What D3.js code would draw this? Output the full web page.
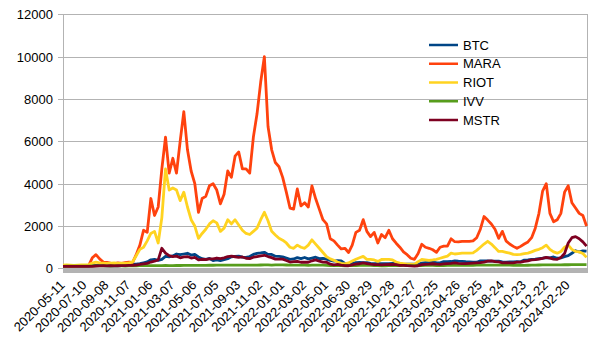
<!DOCTYPE html>
<html>
<head>
<meta charset="utf-8">
<script src="https://cdn.jsdelivr.net/npm/d3@7"></script>
<style>
  body { margin: 0; background: #fff; }
  svg { display: block; }
  text { font-family: "Liberation Sans", Arial, sans-serif; font-size: 13px; fill: #000; }
</style>
</head>
<body>
<svg id="chart" width="606" height="341"></svg>
<script>
// Sampling of the series: one value every 10 days from the first date.
const startDate = "2020-05-11";
const endDate = "2024-04-14";
const stepDays = 10;

const tickLabels = [
  "2020-05-11", "2020-07-10", "2020-09-08", "2020-11-07", "2021-01-06", "2021-03-07",
  "2021-05-06", "2021-07-05", "2021-09-03", "2021-11-02", "2022-01-01", "2022-03-02",
  "2022-05-01", "2022-06-30", "2022-08-29", "2022-10-28", "2022-12-27", "2023-02-25",
  "2023-04-26", "2023-06-25", "2023-08-24", "2023-10-23", "2023-12-22", "2024-02-20"
];
const yTicks = [0, 2000, 4000, 6000, 8000, 10000, 12000];

const seriesNames = ["BTC", "MARA", "RIOT", "IVV", "MSTR"];
const seriesColors = ["#004586", "#ff420e", "#ffd320", "#579d1c", "#7e0021"];

// Indexed performance (start = 100)
const btc = [
  100, 107, 110, 113, 108, 106, 107, 108, 130, 137, 137, 133,
  119, 127, 125, 125, 133, 155, 174, 196, 198, 222, 265, 306,
  405, 426, 375, 430, 570, 545, 590, 680, 645, 680, 715, 630,
  660, 540, 460, 430, 470, 370, 400, 370, 410, 460, 550, 570,
  580, 535, 520, 560, 660, 710, 730, 760, 660, 660, 575, 565,
  545, 490, 425, 445, 510, 460, 515, 450, 490, 530, 460, 475,
  440, 375, 340, 370, 350, 240, 230, 240, 275, 280, 270, 270,
  235, 225, 225, 225, 225, 225, 240, 240, 195, 190, 200, 195,
  195, 195, 245, 270, 270, 285, 270, 260, 320, 320, 325, 350,
  340, 335, 315, 310, 300, 290, 355, 355, 350, 340, 340, 340,
  305, 300, 305, 310, 320, 310, 395, 405, 430, 435, 465, 480,
  510, 500, 540, 480, 500, 555, 600, 715, 835, 780, 830, 815
];
const mara = [
  100, 95, 90, 100, 110, 105, 110, 130, 500, 650, 450, 300,
  280, 250, 230, 260, 240, 270, 300, 280, 650, 1100, 1800, 1700,
  3300, 2500, 2900, 4700, 6200, 4500, 5200, 4500, 6000, 7400, 5600, 4600,
  4000, 2650, 3300, 3400, 3900, 4000, 3700, 3050, 3500, 4600, 4300, 5300,
  5500, 4700, 4700, 4500, 6200, 7300, 8800, 10000, 6700, 5600, 5000, 4800,
  4300, 3600, 2850, 2800, 3750, 2950, 3100, 2900, 3900, 3300, 2800, 2300,
  2100, 1400, 1300, 1100, 920, 950, 750, 1100, 1700, 1800, 2300, 1750,
  1500, 1700, 1200, 1600, 1450, 1800, 1400, 1190, 1000, 780, 650, 480,
  430, 700, 1140, 1000, 950, 880, 760, 1000, 1050, 1050, 1400, 1260,
  1250, 1280, 1280, 1280, 1300, 1450, 1850, 2450, 2280, 2100, 1850, 1420,
  1750, 1300, 1150, 1040, 950, 1040, 1150, 1250, 1450, 1900, 2600, 3650,
  4000, 2600, 2200, 2300, 2600, 3600, 3900, 3100, 2850, 2600, 2500, 2000
];
const riot = [
  150, 160, 150, 140, 150, 160, 160, 180, 250, 300, 260, 250,
  240, 250, 260, 240, 250, 240, 260, 300, 600, 900, 1000, 1300,
  1650, 1750, 1200, 2400, 4700, 3700, 3800, 3700, 3200, 3600, 2900, 2300,
  2000, 1420, 1650, 1850, 2100, 2250, 2150, 1750, 1900, 2300, 2100, 2300,
  2050, 1800, 1650, 1600, 1750, 1900, 2300, 2650, 2250, 1750, 1580, 1420,
  1330, 1200, 1000, 950, 1100, 1000, 950, 1100, 1350, 1150, 950, 750,
  550, 450, 380, 300, 240, 210, 260, 350, 430, 500, 570, 430,
  430, 400, 330, 420, 430, 430, 400, 300, 250, 230, 200, 200,
  190, 320, 420, 400, 380, 400, 430, 480, 530, 580, 720, 680,
  700, 720, 720, 720, 730, 850, 1000, 1150, 1280, 1150, 980, 800,
  800, 760, 720, 660, 650, 660, 700, 720, 780, 850, 900, 980,
  1100, 900, 780, 720, 800, 1000, 1100, 900, 800, 780, 700, 520
];
const ivv = [
  100, 103, 105, 111, 106, 107, 110, 112, 114, 117, 118, 121,
  115, 114, 115, 119, 120, 113, 123, 124, 126, 127, 128, 129,
  131, 132, 131, 134, 137, 133, 135, 137, 137, 141, 144, 145,
  145, 143, 145, 146, 148, 148, 151, 150, 152, 152, 155, 155,
  156, 154, 153, 151, 152, 158, 161, 162, 162, 158, 162, 162,
  165, 161, 152, 156, 155, 150, 151, 147, 156, 157, 152, 151,
  144, 138, 134, 141, 135, 126, 131, 134, 137, 142, 146, 148,
  139, 138, 134, 126, 125, 128, 133, 132, 138, 139, 137, 133,
  132, 135, 137, 140, 143, 142, 137, 138, 137, 139, 142, 143,
  141, 143, 143, 144, 148, 152, 151, 153, 157, 158, 155, 152,
  153, 156, 155, 149, 148, 150, 145, 148, 153, 157, 160, 163,
  165, 165, 165, 168, 169, 172, 173, 177, 178, 180, 181, 178
];
const mstr = [
  100, 100, 100, 100, 98, 95, 98, 98, 100, 113, 120, 125,
  118, 125, 118, 125, 130, 135, 140, 145, 160, 185, 215, 240,
  300, 340, 400, 950, 720, 600, 560, 580, 500, 540, 560, 490,
  520, 400, 430, 420, 450, 450, 490, 460, 500, 560, 580, 550,
  520, 540, 480, 460, 530, 560, 590, 620, 560, 510, 440, 440,
  440, 370, 300, 320, 330, 290, 300, 290, 360, 400, 340, 300,
  290, 200, 170, 190, 150, 130, 125, 170, 200, 220, 260, 230,
  200, 180, 180, 170, 180, 185, 190, 175, 140, 145, 130, 120,
  110, 125, 175, 190, 200, 220, 200, 190, 210, 230, 240, 260,
  240, 230, 230, 240, 250, 260, 270, 300, 340, 360, 320, 310,
  265, 270, 265, 265, 300, 300, 330, 360, 400, 410, 440, 470,
  520, 480, 440, 430, 520, 700, 1200, 1450, 1500, 1400, 1250, 1050
];
const seriesValues = [btc, mara, riot, ivv, mstr];

const parse = d3.utcParse("%Y-%m-%d");
const fmt = d3.utcFormat("%Y-%m-%d");
const t0 = parse(startDate);
const dates = btc.map((_, i) => d3.utcDay.offset(t0, i * stepDays));

const plotLeft = 63, plotRight = 588, plotTop = 14, plotBottom = 268;

const svg = d3.select("#chart");

const x = d3.scaleUtc().domain([t0, parse(endDate)]).range([plotLeft, plotRight]);
const y = d3.scaleLinear().domain([0, 12000]).range([268.4, 14.3]);
const yGrid = y.copy().interpolate(d3.interpolateRound);

// Horizontal grid
svg.append("g")
  .selectAll("line")
  .data(yTicks)
  .join("line")
  .attr("x1", plotLeft).attr("x2", plotRight)
  .attr("y1", d => yGrid(d) + 0.5).attr("y2", d => yGrid(d) + 0.5)
  .attr("stroke", "#b3b3b3").attr("stroke-width", 1);

// Plot frame: left axis line and right edge
svg.append("line").attr("x1", plotLeft + 0.5).attr("x2", plotLeft + 0.5)
  .attr("y1", plotTop).attr("y2", plotBottom + 5).attr("stroke", "#b3b3b3");
svg.append("line").attr("x1", plotRight - 0.5).attr("x2", plotRight - 0.5)
  .attr("y1", plotTop).attr("y2", plotBottom).attr("stroke", "#b3b3b3");

// Daily tick marks along the date axis merge into a solid strip
svg.append("rect")
  .attr("x", plotLeft).attr("y", plotBottom)
  .attr("width", plotRight - plotLeft).attr("height", 5)
  .attr("fill", "#b3b3b3");

// Y axis
const yAxis = svg.append("g")
  .attr("transform", `translate(${plotLeft},0)`)
  .call(d3.axisLeft(yGrid).tickValues(yTicks).tickSize(5).tickPadding(5).tickFormat(d3.format("d")));
yAxis.select(".domain").remove();
yAxis.selectAll(".tick line").attr("stroke", "#b3b3b3");
yAxis.selectAll(".tick text")
  .attr("fill", "#000")
  .style("font-family", '"Liberation Sans", Arial, sans-serif')
  .style("font-size", "13px");

// X axis with rotated date labels
const xAxis = svg.append("g")
  .attr("transform", `translate(0,${plotBottom})`)
  .call(d3.axisBottom(x).tickValues(tickLabels.map(parse)).tickSize(0).tickFormat(fmt));
xAxis.select(".domain").remove();
xAxis.selectAll(".tick text")
  .attr("fill", "#000")
  .style("font-family", '"Liberation Sans", Arial, sans-serif')
  .style("font-size", "13px")
  .attr("x", 0).attr("y", 0).attr("dy", 0)
  .attr("text-anchor", "end")
  .attr("transform", "translate(2,18) rotate(-45)");

// Series lines
const line = d3.line()
  .x((d, i) => x(dates[i]))
  .y(d => y(d));

svg.append("g")
  .selectAll("path")
  .data(seriesValues)
  .join("path")
  .attr("d", d => line(d))
  .attr("fill", "none")
  .attr("stroke", (d, i) => seriesColors[i])
  .attr("stroke-width", 2.8)
  .attr("stroke-linejoin", "round");

// Legend
const legend = svg.append("g").attr("transform", "translate(429,45)");
const item = legend.selectAll("g")
  .data(seriesNames)
  .join("g")
  .attr("transform", (d, i) => `translate(0,${i * 18.75})`);
item.append("line")
  .attr("x1", 0).attr("x2", 29).attr("y1", 0).attr("y2", 0)
  .attr("stroke", (d, i) => seriesColors[i])
  .attr("stroke-width", 2.5);
item.append("text")
  .attr("x", 34).attr("y", 0).attr("dy", "0.36em")
  .text(d => d);
</script>
</body>
</html>
